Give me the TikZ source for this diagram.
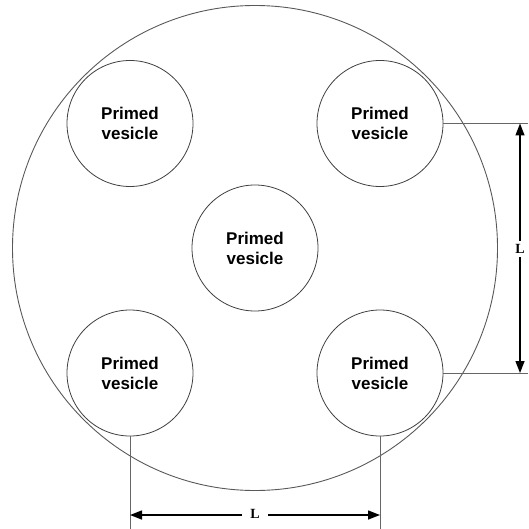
\documentclass[tikz,border=0pt]{standalone}
\usepackage{fontspec}
\setmainfont{Liberation Sans}
\newfontfamily\serifL{Liberation Serif}
\usetikzlibrary{arrows.meta}
\begin{document}
\begin{tikzpicture}[x=1pt,y=-1pt,
  ves/.style={circle,draw=black!75,line width=0.8pt,minimum size=126pt,inner sep=0pt,
    align=center,font=\fontsize{17}{20}\selectfont\bfseries},
  ext/.style={draw=black!60,line width=0.9pt},
  dim/.style={draw=black,line width=1.4pt,{Triangle[length=12pt,width=9pt]}-{Triangle[length=12pt,width=9pt]}},
  lab/.style={fill=white,inner sep=3pt,font=\serifL\fontsize{14}{16}\selectfont\bfseries}]
\useasboundingbox (0,0) rectangle (528,529);
\node[circle,draw=black!65,line width=0.9pt,minimum size=485pt,inner sep=0pt] (cell) at (255,248) {};
\node[ves] (tl) at (130,123.5) {Primed\\vesicle};
\node[ves] (tr) at (380,123.5) {Primed\\vesicle};
\node[ves] (c)  at (255,248) {Primed\\vesicle};
\node[ves] (bl) at (130,373) {Primed\\vesicle};
\node[ves] (br) at (380,373) {Primed\\vesicle};
% right dimension
\coordinate (rt) at (528,123.5);
\coordinate (rb) at (528,373);
\coordinate (at) at (520,123.5);
\coordinate (ab) at (520,373);
\draw[ext] (tr.east) -- (rt);
\draw[ext] (br.east) -- (rb);
\draw[dim] (at) -- (ab);
\node[lab] (L1) at (520,249) {L};
% bottom dimension
\coordinate (bl1) at (130,529);
\coordinate (br1) at (380,529);
\coordinate (al) at (130,515);
\coordinate (ar) at (380,515);
\draw[ext] (bl.south) -- (bl1);
\draw[ext] (br.south) -- (br1);
\draw[dim] (al) -- (ar);
\node[lab,inner xsep=8pt] (L2) at (255,514) {L};
\end{tikzpicture}
\end{document}
